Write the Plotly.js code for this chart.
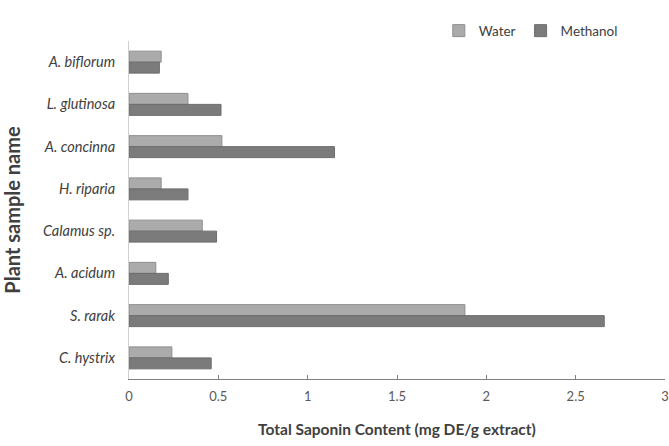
<!DOCTYPE html>
<html>
<head>
<meta charset="utf-8">
<script src="https://cdn.plot.ly/plotly-3.0.1.min.js"></script>
<style>html,body{margin:0;padding:0;background:#fff;}#chart{width:669px;height:446px;}</style>
</head>
<body>
<div id="chart"></div>
<script>
const categories = ["A. biflorum", "L. glutinosa", "A. concinna", "H. riparia", "Calamus sp.", "A. acidum", "S. rarak", "C. hystrix"];
const waterValues = [0.18, 0.33, 0.52, 0.18, 0.41, 0.15, 1.88, 0.24];
const methanolValues = [0.17, 0.515, 1.15, 0.33, 0.49, 0.22, 2.66, 0.46];
const xTickValues = [0, 0.5, 1, 1.5, 2, 2.5, 3];
const xTickLabels = ["0", "0.5", "1", "1.5", "2", "2.5", "3"];

const fontFamily = "Lato, 'Open Sans', sans-serif";

const data = [
  {
    type: "bar", orientation: "h", name: "Water",
    y: categories, x: waterValues,
    marker: {color: "#ababab", line: {color: "#8e8e8e", width: 1}}
  },
  {
    type: "bar", orientation: "h", name: "Methanol",
    y: categories, x: methanolValues,
    marker: {color: "#7b7b7b", line: {color: "#6c6c6c", width: 1}}
  }
];

const layout = {
  width: 669, height: 446,
  margin: {l: 129, r: 4, t: 41, b: 67, autoexpand: false},
  paper_bgcolor: "#fff", plot_bgcolor: "#fff",
  barmode: "group", bargap: 0.48, bargroupgap: 0,
  font: {family: fontFamily, color: "#404040", size: 12},
  showlegend: true,
  legend: {
    orientation: "h", x: 0.578, xanchor: "left", y: 1.03, yanchor: "middle",
    font: {size: 13.5, color: "#404040"}, itemwidth: 30,
    tracegroupgap: 0, bgcolor: "rgba(0,0,0,0)"
  },
  xaxis: {
    range: [0, 3], tickvals: xTickValues, ticktext: xTickLabels,
    showgrid: false, zeroline: false,
    showline: true, linecolor: "#7f7f7f", linewidth: 1,
    ticks: "inside", ticklen: 4, tickcolor: "#7f7f7f",
    ticklabelstandoff: 5,
    tickfont: {size: 13, color: "#595959"},
    title: {text: "Total Saponin Content (mg DE/g extract)", font: {size: 15.5, color: "#404040", weight: "bold"}, standoff: 21},
    automargin: false, fixedrange: true
  },
  yaxis: {
    type: "category", autorange: "reversed",
    showgrid: false, zeroline: false,
    showline: true, linecolor: "#d0d0d0", linewidth: 1,
    ticks: "", ticklabelstandoff: 10,
    tickfont: {size: 14.5, color: "#404040", style: "italic"},
    title: {text: "Plant sample name", font: {size: 20, color: "#404040", weight: "bold"}, standoff: 22},
    automargin: false, fixedrange: true
  }
};

Plotly.newPlot("chart", data, layout, {displayModeBar: false, staticPlot: true});
</script>
</body>
</html>
